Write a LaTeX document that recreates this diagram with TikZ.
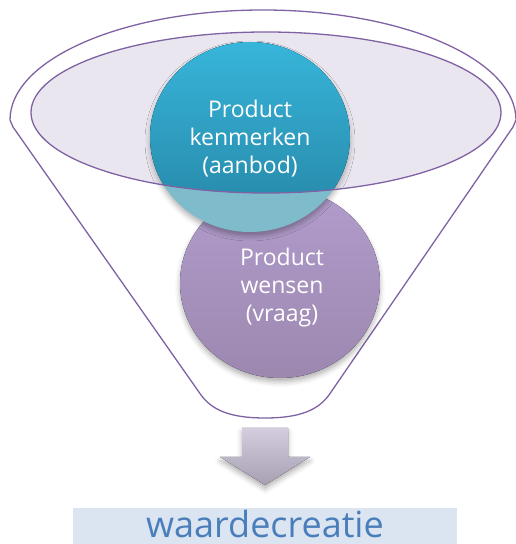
\documentclass[tikz,border=0pt]{standalone}
\usepackage{fontspec}
\setmainfont{Open Sans}
\usetikzlibrary{shadows.blur}
\definecolor{funnelline}{HTML}{7F62A3}
\definecolor{rimfill}{HTML}{EAE6EF}
\definecolor{bluetop}{HTML}{37B5DA}
\definecolor{bluebot}{HTML}{2584A4}
\definecolor{bluelight}{HTML}{7EBCCC}
\definecolor{purptop}{HTML}{B19CCC}
\definecolor{purpbot}{HTML}{9C88AF}
\definecolor{arrtop}{HTML}{D4CDE0}
\definecolor{arrbot}{HTML}{A7A0B3}
\definecolor{boxfill}{HTML}{DBE5F1}
\definecolor{boxtext}{HTML}{4A7EBB}
\tikzset{
  funnelstroke/.style={draw=funnelline, line width=1.3pt},
  circtext/.style={text=white, font=\fontsize{23}{28}\selectfont, align=center, inner sep=0pt},
  softshadow/.style={blur shadow={shadow xshift=0pt, shadow yshift=-4pt, shadow blur radius=5pt, shadow opacity=30}}
}
\begin{document}
\begin{tikzpicture}[x=1pt,y=1pt]
\useasboundingbox (0,0) rectangle (515,544);
% funnel outline
\draw[funnelstroke, line join=round]
  (10,424) arc[start angle=180, end angle=0, x radius=253, y radius=110]
  -- (513,417) -- (329,149)
  .. controls (318,134) and (300,126) .. (265,126)
  .. controls (230,126) and (212,134) .. (201,149)
  -- (13,417) -- cycle;
% inner rim fill
\fill[rimfill] (266,431.5) ellipse [x radius=235, y radius=80.5];
% purple circle
\fill[top color=purptop, bottom color=purpbot, softshadow] (280,261) ellipse [x radius=100, y radius=95];
% blue circle, light part
\fill[bluelight, softshadow] (250,407) ellipse [x radius=100, y radius=95];
\begin{scope}
  \clip (266,431.5) ellipse [x radius=235, y radius=80.5];
  \fill[top color=bluetop, bottom color=bluebot] (250,407) ellipse [x radius=100, y radius=95];
\end{scope}
\draw[funnelstroke] (266,431.5) ellipse [x radius=235, y radius=80.5];
% texts in circles
\node[circtext] (kenmerken) at (250,405) {Product\\kenmerken\\(aanbod)};
\node[circtext] (wensen) at (282,256.5) {Product\\wensen\\(vraag)};
% down arrow
\fill[top color=arrtop, bottom color=arrbot, softshadow]
  (242,116) -- (288,116) -- (288,87) -- (310,87) -- (265,59) -- (220,87) -- (242,87) -- cycle;
% result box
\fill[boxfill] (73,0) rectangle (457,36);
\node[text=boxtext, font=\fontsize{36}{40}\selectfont, anchor=base, inner sep=0pt] (waarde) at (265,6) {waardecreatie};
\end{tikzpicture}
\end{document}
